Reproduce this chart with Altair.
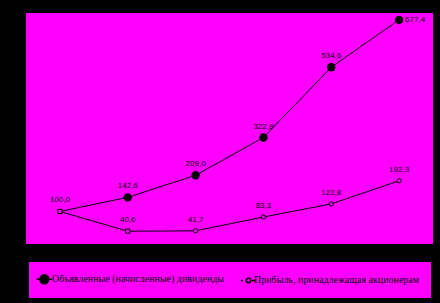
import altair as alt
import pandas as pd

# Index values (base period = 100) for two series over six periods
periods = [1, 2, 3, 4, 5, 6]
dividends = [100.0, 142.6, 209.0, 322.8, 534.6, 677.4]
profit = [100.0, 40.6, 41.7, 83.3, 122.8, 192.3]
series_names = [
    "Объявленные (начисленные) дивиденды",
    "Прибыль, принадлежащая акционерам",
]

MAGENTA = "#FF00FF"

df = pd.DataFrame(
    {
        "period": periods * 2,
        "value": dividends + profit,
        "series": [series_names[0]] * len(periods) + [series_names[1]] * len(periods),
        "idx": list(range(len(periods))) * 2,
    }
)

x = alt.X("period:O", scale=alt.Scale(type="point", padding=0.5), axis=None)
y = alt.Y("value:Q", scale=alt.Scale(domain=[2, 698], zero=False, nice=False), axis=None)

base = alt.Chart(df).encode(x=x, y=y)
is_div = f"datum.series == '{series_names[0]}'"
is_prof = f"datum.series == '{series_names[1]}'"

lines = base.mark_line(color="black", strokeWidth=1).encode(detail="series:N")

div_points = base.transform_filter(is_div).transform_filter("datum.idx > 0").mark_point(
    filled=True, color="black", size=70, opacity=1
)

prof_style = dict(fill=MAGENTA, stroke="black", strokeWidth=1, size=18, opacity=1)
prof_squares = base.transform_filter(is_prof).transform_filter("datum.idx < 2").mark_point(
    shape="square", **prof_style
)
prof_circles = base.transform_filter(is_prof).transform_filter("datum.idx >= 2").mark_point(
    shape="circle", **prof_style
)

label_text = "replace(format(datum.value, '.1f'), '.', ',')"
lab_style = dict(font="Liberation Sans", fontSize=8, color="black", baseline="middle")

div_labels = (
    base.transform_filter(is_div)
    .transform_filter("datum.idx < 5")
    .transform_calculate(lab=label_text)
    .mark_text(dy=-11, align="center", **lab_style)
    .encode(text="lab:N")
)
div_last = (
    base.transform_filter(is_div)
    .transform_filter("datum.idx == 5")
    .transform_calculate(lab=label_text)
    .mark_text(dx=6, align="left", **lab_style)
    .encode(text="lab:N")
)
prof_labels = (
    base.transform_filter(is_prof)
    .transform_filter("datum.idx > 0")
    .transform_calculate(lab=label_text)
    .mark_text(dy=-11, align="center", **lab_style)
    .encode(text="lab:N")
)


def ring(cx, r):
    return f"M{cx - r:.2f},0A{r:.2f},{r:.2f} 0 1,0 {cx + r:.2f},0A{r:.2f},{r:.2f} 0 1,0 {cx - r:.2f},0Z"


# Legend glyphs: a line with a marker, drawn around a 9px symbol box.
# The solid marker is built from concentric rings so it reads as filled.
sym_div = "M-1.89,0L1.22,0" + "".join(ring(-0.33, r) for r in (0.89, 0.68, 0.47, 0.26, 0.08))
sym_prof = "M-1.44,0L-1,0M0.78,0L1.44,0" + ring(0.11, 0.44)

legend = alt.Legend(
    title=None,
    orient="none",
    legendX=3,
    legendY=249,
    direction="horizontal",
    columns=2,
    fillColor=MAGENTA,
    padding=11,
    columnPadding=12,
    labelOffset=0,
    labelFont="Liberation Serif",
    labelFontSize=10,
    labelColor="black",
    labelLimit=400,
)

legend_layer = (
    base.transform_filter("false")
    .mark_point(fill=MAGENTA, stroke="black", strokeWidth=1, size=81, opacity=1)
    .encode(
        shape=alt.Shape("series:N", scale=alt.Scale(domain=series_names, range=[sym_div, sym_prof]), legend=legend),
    )
)

chart = (
    alt.layer(lines, div_points, prof_squares, prof_circles, div_labels, div_last, prof_labels, legend_layer)
    .properties(
        width=407,
        height=231,
        background="black",
        padding={"left": 26, "top": 13, "right": 7, "bottom": 59},
        autosize=alt.AutoSizeParams(type="none"),
    )
    .configure_view(fill=MAGENTA, stroke=None)
)

chart.save("out.html", embed_options={"renderer": "svg", "actions": False})
